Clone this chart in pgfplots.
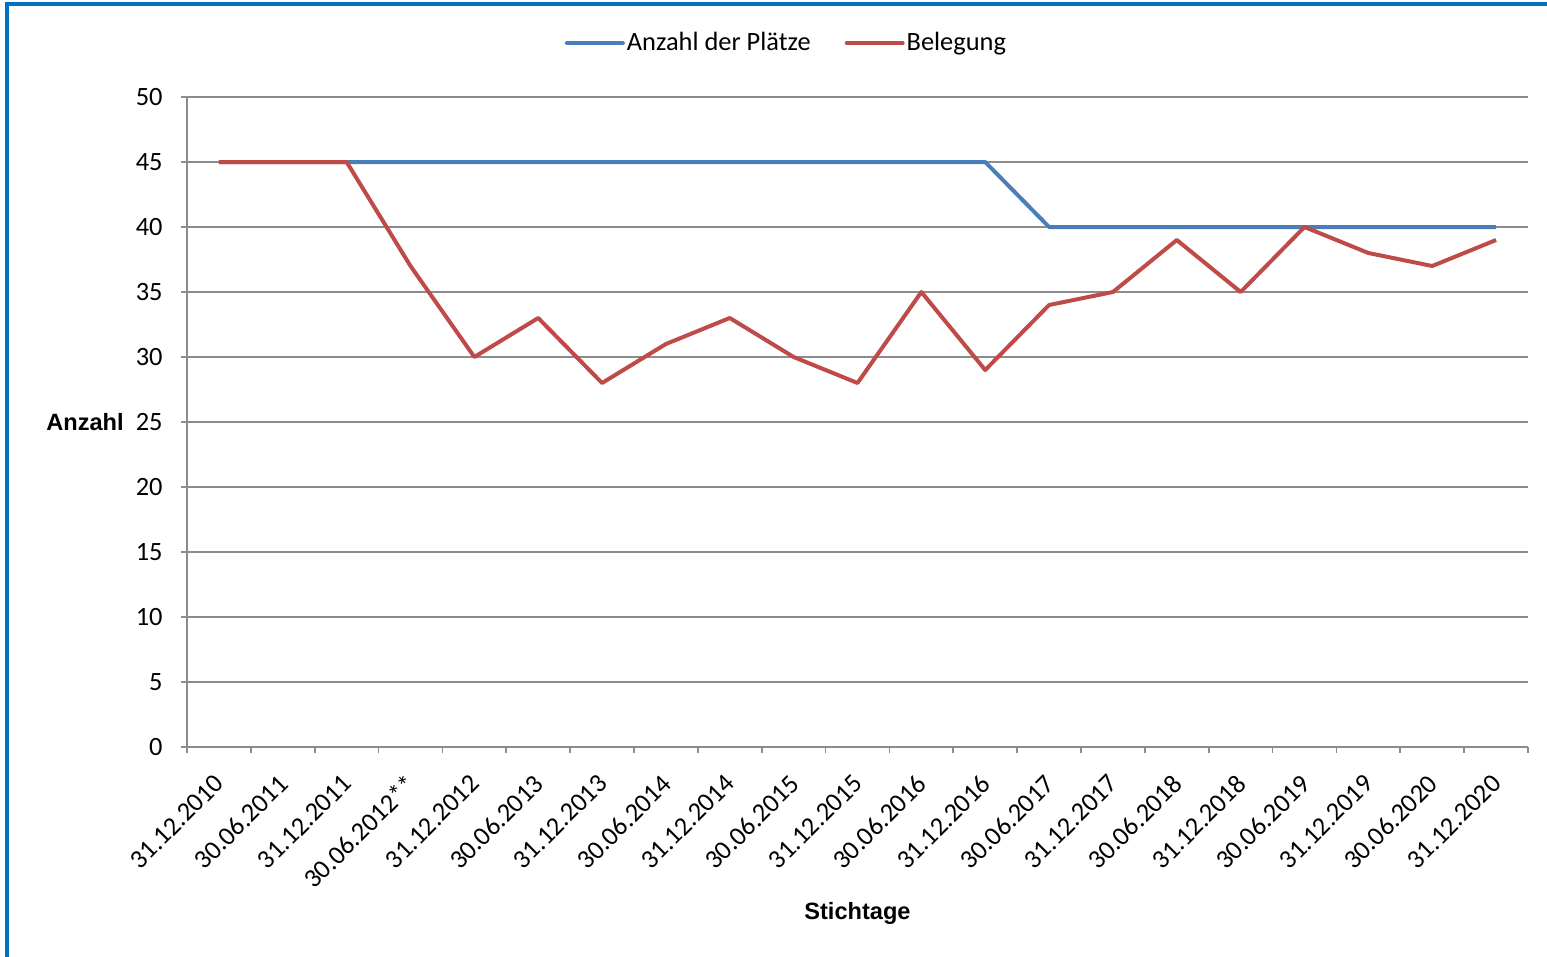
\documentclass[border=0pt]{standalone}
\usepackage{pgfplots}
\pgfplotsset{compat=1.18}
\usepackage{fontspec}
\setmainfont{Carlito}
\newfontfamily\arialf{Liberation Sans}
\definecolor{blueline}{HTML}{4A7EBB}
\definecolor{redline}{HTML}{BE4B48}
\definecolor{gridc}{HTML}{8C8C8C}
\definecolor{framec}{HTML}{0070C0}
\begin{document}
\begin{tikzpicture}
\useasboundingbox (0,0) rectangle (773.5pt,-478.5pt);
\begin{scope}
\clip (0,0) rectangle (773.5pt,-478.5pt);
\draw[framec, line width=2pt] (3.5pt,-2pt) rectangle (800pt,-500pt);
\end{scope}
\begin{axis}[
  at={(93.5pt,-373.5pt)}, anchor=south west,
  scale only axis, width=670.5pt, height=325pt,
  xmin=-0.5, xmax=20.5, ymin=0, ymax=50,
  axis lines*=left,
  every outer x axis line/.append style={-},
  every outer y axis line/.append style={-},
  every inner x axis line/.append style={-},
  every inner y axis line/.append style={-},
  axis line style={gridc, line width=0.9pt},
  ymajorgrids, grid style={gridc, line width=0.9pt},
  tick align=outside, major tick length=3pt,
  tick style={gridc, line width=0.9pt},
  ytick={0,5,...,50},
  /pgf/number format/assume math mode=true,
  yticklabel style={font=\fontsize{13.2}{15}\selectfont, anchor=east, inner sep=0pt, xshift=-9pt},
  xtick={-0.5,0.5,...,20.5}, xticklabels={},
  extra x ticks={0,1,...,20},
  extra x tick labels={31.12.2010,30.06.2011,31.12.2011,30.06.2012**,31.12.2012,30.06.2013,31.12.2013,30.06.2014,31.12.2014,30.06.2015,31.12.2015,30.06.2016,31.12.2016,30.06.2017,31.12.2017,30.06.2018,31.12.2018,30.06.2019,31.12.2019,30.06.2020,31.12.2020},
  extra x tick style={major tick length=0pt, grid=none,
    xticklabel style={font=\fontsize{13.2}{15}\selectfont, rotate=45, anchor=north east, inner sep=0pt, xshift=-11pt, yshift=-7pt}},
  xlabel={\arialf\bfseries Stichtage},
  xlabel style={at={(axis description cs:0.5,0)}, anchor=center, yshift=-83pt, font=\fontsize{11.8}{14}\selectfont},
  ylabel={\arialf\bfseries Anzahl},
  ylabel style={rotate=-90, at={(axis description cs:0,0.5)}, anchor=center, xshift=-51pt, font=\fontsize{11.8}{14}\selectfont},
  legend columns=2,
  legend style={at={(axis description cs:0.447,1.083)}, anchor=center, draw=none, fill=none,
    font=\fontsize{13.2}{15}\selectfont, inner sep=0pt,
    /tikz/every even column/.append style={column sep=16pt},
    nodes={inner sep=1pt}},
  legend image code/.code={\draw[#1, line cap=round] (0pt,0pt) -- (28pt,0pt);},
  every axis plot/.append style={line width=2pt, line join=round},
]
\addplot[blueline, mark=none] coordinates {
(0,45) (1,45) (2,45) (3,45) (4,45) (5,45) (6,45) (7,45) (8,45) (9,45) (10,45) (11,45) (12,45)
(13,40) (14,40) (15,40) (16,40) (17,40) (18,40) (19,40) (20,40)};
\addlegendentry{Anzahl der Plätze}
\addplot[redline, mark=none] coordinates {
(0,45) (1,45) (2,45) (3,37) (4,30) (5,33) (6,28) (7,31) (8,33) (9,30) (10,28) (11,35) (12,29)
(13,34) (14,35) (15,39) (16,35) (17,40) (18,38) (19,37) (20,39)};
\addlegendentry{Belegung}
\end{axis}
\end{tikzpicture}
\end{document}
